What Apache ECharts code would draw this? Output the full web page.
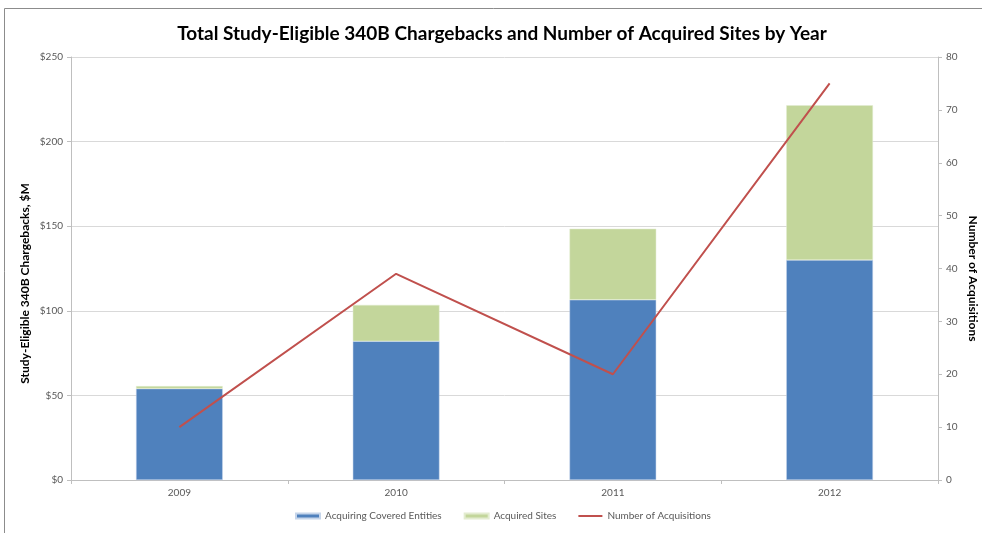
<!DOCTYPE html>
<html>
<head>
<meta charset="utf-8">
<script src="https://cdn.jsdelivr.net/npm/echarts@6/dist/echarts.min.js"></script>
<style>
  html, body { margin: 0; padding: 0; background: #fff; }
  #chart { width: 982px; height: 533px; }
</style>
</head>
<body>
<div id="chart"></div>
<script>
const years = ['2009', '2010', '2011', '2012']
const coveredEntities = [54, 82, 106.5, 130]
const acquiredSites = [1.5, 21.5, 42, 91.5]
const acquisitions = [10, 39, 20, 75]

const font = 'Lato, "Open Sans", sans-serif'
const labelColor = '#595959'
const axisColor = '#bfbfbf'

// thin line icon for the line series in the legend
const lineIcon = 'path://M0,0L0.01,0L0.01,0.01Z M0,1.6L24,1.6L24,3.4L0,3.4Z M23.99,5L24,5L24,4.99Z'

const chart = echarts.init(document.getElementById('chart'))
chart.setOption({
  animation: false,
  textStyle: { fontFamily: font },
  graphic: [
    {
      type: 'rect',
      shape: { x: 4.5, y: 8.5, width: 1000, height: 600 },
      style: { fill: 'none', stroke: '#8c8c8c', lineWidth: 1 }
    }
  ],
  title: {
    text: 'Total Study-Eligible 340B Chargebacks and Number of Acquired Sites by Year',
    left: 497,
    textAlign: 'center',
    top: 19,
    textStyle: { fontFamily: font, fontSize: 19, fontWeight: 'bold', color: '#000' }
  },
  legend: {
    bottom: 7,
    left: 290,
    itemWidth: 24,
    itemHeight: 5,
    itemGap: 22,
    textStyle: { fontFamily: font, fontSize: 10, color: labelColor },
    data: [
      { name: 'Acquiring Covered Entities', icon: 'rect' },
      { name: 'Acquired Sites', icon: 'rect' },
      { name: 'Number of Acquisitions', icon: lineIcon }
    ]
  },
  grid: { left: 71, right: 44, top: 57, bottom: 53, outerBoundsMode: 'none' },
  xAxis: {
    type: 'category',
    data: years,
    axisLine: { lineStyle: { color: axisColor } },
    axisTick: { show: true, length: 4, lineStyle: { color: axisColor } },
    axisLabel: { color: labelColor, fontSize: 10, margin: 8 }
  },
  yAxis: [
    {
      type: 'value',
      min: 0,
      max: 250,
      interval: 50,
      name: 'Study-Eligible 340B Chargebacks, $M',
      nameLocation: 'middle',
      nameGap: 40,
      nameRotate: 90,
      nameMoveOverlap: false,
      nameTextStyle: {
        fontFamily: font, fontSize: 12, fontWeight: 'bold', color: '#000',
        padding: [0, 30, 0, 0]
      },
      axisLine: { show: true, lineStyle: { color: axisColor } },
      axisTick: { show: true, length: 4, lineStyle: { color: axisColor } },
      axisLabel: { color: labelColor, fontSize: 10, margin: 8, formatter: (v) => '$' + v },
      splitLine: { lineStyle: { color: '#d9d9d9' } }
    },
    {
      type: 'value',
      position: 'right',
      min: 0,
      max: 80,
      interval: 10,
      name: 'Number of Acquisitions',
      nameLocation: 'middle',
      nameGap: 29,
      nameRotate: -90,
      nameMoveOverlap: false,
      nameTextStyle: {
        fontFamily: font, fontSize: 12, fontWeight: 'bold', color: '#000',
        padding: [0, 0, 0, 20]
      },
      axisLine: { show: true, lineStyle: { color: axisColor } },
      axisTick: { show: true, length: 4, lineStyle: { color: axisColor } },
      axisLabel: { color: labelColor, fontSize: 10, margin: 8 },
      splitLine: { show: false }
    }
  ],
  series: [
    {
      name: 'Acquiring Covered Entities',
      type: 'bar',
      stack: 'total',
      barWidth: '40%',
      data: coveredEntities,
      itemStyle: { color: '#4f81bd', borderColor: '#c6d5ea', borderWidth: 0.5 }
    },
    {
      name: 'Acquired Sites',
      type: 'bar',
      stack: 'total',
      data: acquiredSites,
      itemStyle: { color: '#c3d69b', borderColor: '#e3ecd0', borderWidth: 0.5 }
    },
    {
      name: 'Number of Acquisitions',
      type: 'line',
      yAxisIndex: 1,
      data: acquisitions,
      symbol: 'none',
      lineStyle: { color: '#c0504d', width: 2 },
      itemStyle: { color: '#c0504d' }
    }
  ]
})
</script>
</body>
</html>
